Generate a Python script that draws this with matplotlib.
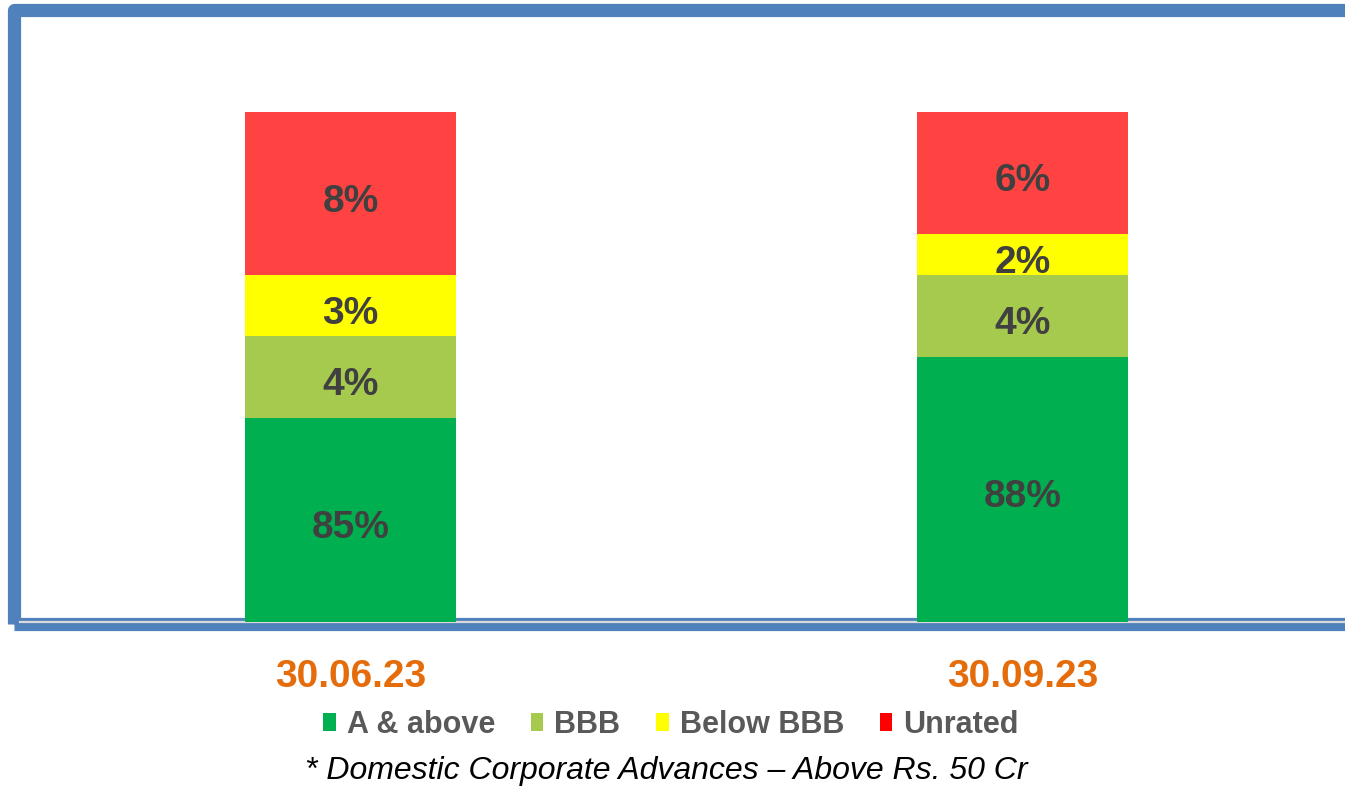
import matplotlib
matplotlib.use("Agg")
import matplotlib.pyplot as plt
from matplotlib.patches import Rectangle, Patch
from matplotlib import font_manager
import numpy as np

# ---- data ----
categories = ["30.06.23", "30.09.23"]
series_names = ["A & above", "BBB", "Below BBB", "Unrated"]
a_above = [85, 88]
bbb = [4, 4]
below_bbb = [3, 2]
unrated = [8, 6]

bar_colors = ["#00B050", "#A6CA4E", "#FFFF00", "#FF4343"]
legend_colors = ["#00B050", "#A6CA4E", "#FFFF00", "#FF0000"]

W, H, DPI = 1345, 787, 100
fig = plt.figure(figsize=(W / DPI, H / DPI), dpi=DPI)
fig.patch.set_facecolor("white")

FONT = ["Liberation Sans", "DejaVu Sans"]
names = {f.name for f in font_manager.fontManager.ttflist}
if "Liberation Sans Narrow" in names:
    LABEL_FONT = ["Liberation Sans Narrow", "Liberation Sans"]
    label_size = 31
else:
    LABEL_FONT = FONT
    label_size = 28

# frame (blue rounded border, right side runs off the image)
frame = Rectangle((13.5, H - 623.5), 1500, 623.5 - 9.7, transform=None,
                  fill=False, edgecolor="#4F81BD", linewidth=9.5,
                  joinstyle="round", zorder=-1)
fig.add_artist(frame)

# axes placement (pixels)
ax_left, ax_right, ax_bottom, ax_top = 20, 1345, 621.7, 16
ax = fig.add_axes([ax_left / W, (H - ax_bottom) / H,
                   (ax_right - ax_left) / W, (ax_bottom - ax_top) / H])
ax.patch.set_visible(False)
ymin = 75
ymax = ymin + (ax_bottom - ax_top) / 20.39
ax.set_ylim(ymin, ymax)
c0, spacing = 350.5, 672.0
ax.set_xlim((ax_left - c0) / spacing, (ax_right - c0) / spacing)

x = np.arange(len(categories))
bw = 211 / spacing
series = [a_above, bbb, below_bbb, unrated]
bottom = np.zeros(len(categories))
for vals, col in zip(series, bar_colors):
    vals = np.array(vals, dtype=float)
    ax.bar(x, vals, bw, bottom=bottom, color=col, zorder=2, linewidth=0)
    for xi, b, v in zip(x, bottom, vals):
        lo = max(b, ymin)
        hi = b + v
        ax.annotate(f"{int(v)}%", xy=(xi, (lo + hi) / 2),
                    xytext=(0, -18), textcoords="offset pixels",
                    ha="center", va="baseline",
                    fontsize=label_size, fontweight="bold", color="#404040",
                    family=LABEL_FONT, zorder=3)
    bottom += vals

for s in ["top", "left", "right"]:
    ax.spines[s].set_visible(False)
ax.spines["bottom"].set_color("#D9D9D9")
ax.spines["bottom"].set_linewidth(1.6)
ax.spines["bottom"].set_zorder(1)
ax.set_yticks([])
ax.set_xticks(x)
ax.set_xticklabels(categories, fontsize=28, fontweight="bold",
                   color="#E46C0A", family=FONT)
ax.tick_params(axis="x", length=0, pad=27)

handles = [Patch(facecolor=c, edgecolor="none") for c in legend_colors]
leg = fig.legend(handles, series_names, loc="center", ncol=4,
                 bbox_to_anchor=(671 / W, 1 - 725 / H), frameon=False,
                 prop={"family": FONT, "size": 22, "weight": "bold"},
                 handlelength=0.4, handleheight=0.5, handletextpad=0.36,
                 columnspacing=1.18, borderpad=0, borderaxespad=0)
for t in leg.get_texts():
    t.set_color("#595959")

fig.text(666 / W, 1 - 771 / H,
         "* Domestic Corporate Advances \u2013 Above Rs. 50 Cr",
         ha="center", va="center", fontsize=23, style="italic",
         color="black", family=FONT)

fig.savefig("out.png", dpi=DPI)
